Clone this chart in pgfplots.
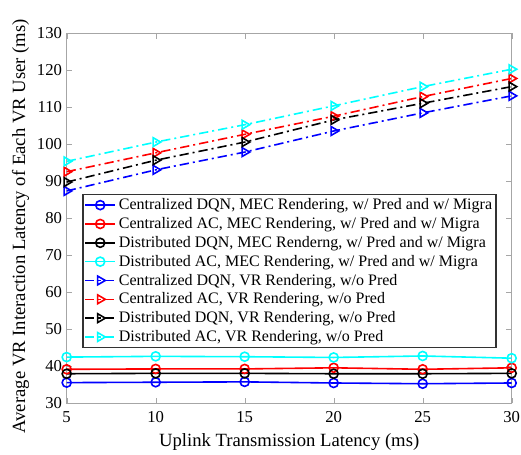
\documentclass[border=0pt]{standalone}
\usepackage{pgfplots}
\pgfplotsset{compat=1.18}
\usepackage{fontspec}
\setmainfont{Liberation Serif}
\definecolor{mcyan}{rgb}{0,1,1}
\definecolor{mblue}{rgb}{0,0,1}
\definecolor{mred}{rgb}{1,0,0}
\begin{document}
\begin{tikzpicture}
\begin{axis}[
  scale only axis,
  width=333.75pt, height=277.5pt,
  xmin=5, xmax=30, ymin=30, ymax=130,
  xtick={5,10,15,20,25,30},
  ytick={30,40,...,130},
  tick align=inside,
  axis line style={gray!70},
  tick style={gray!70},
  every tick label/.append style={font=\fontsize{12.5}{14}\selectfont},
  xticklabel style={yshift=-2.5pt},
  /pgf/number format/assume math mode=true,
  xlabel={Uplink Transmission Latency (ms)},
  ylabel={Average VR Interaction Latency of Each VR User (ms)},
  xlabel style={font=\fontsize{14}{16}\selectfont, yshift=-1pt},
  ylabel style={font=\fontsize{14}{16}\selectfont, xshift=-6pt, yshift=-1pt},
  legend style={at={(0.035,0.566)}, anchor=north west, draw=black!80, line width=1pt,
    font=\fontsize{12}{13}\selectfont, inner sep=1pt, row sep=0.3pt, cells={anchor=west}},
  legend cell align=left,
  legend image code/.code={\draw[mark repeat=2,mark phase=2] plot coordinates {(0cm,0cm) (0.4cm,0cm) (0.8cm,0cm)};},
  every axis plot/.append style={line width=1.2pt},
  mydash/.style={dash pattern=on 7pt off 3pt on 1.5pt off 3pt},
]
\addplot[mblue, mark=o, mark size=3.4pt] coordinates {(5,35.6) (10,35.7) (15,35.8) (20,35.5) (25,35.3) (30,35.5)};
\addlegendentry{Centralized DQN, MEC Rendering, w/ Pred and w/ Migra}
\addplot[mred, mark=o, mark size=3.4pt] coordinates {(5,39.2) (10,39.3) (15,39.3) (20,39.6) (25,39.2) (30,39.6)};
\addlegendentry{Centralized AC, MEC Rendering, w/ Pred and w/ Migra}
\addplot[black, mark=o, mark size=3.4pt] coordinates {(5,38.0) (10,38.1) (15,38.1) (20,38.0) (25,38.0) (30,38.1)};
\addlegendentry{Distributed DQN, MEC Renderng, w/ Pred and w/ Migra}
\addplot[mcyan, mark=o, mark size=3.4pt] coordinates {(5,42.5) (10,42.7) (15,42.6) (20,42.4) (25,42.8) (30,42.2)};
\addlegendentry{Distributed AC, MEC Rendering, w/ Pred and w/ Migra}
\addplot[mblue, mydash, mark=triangle, mark size=3.8pt, mark options={solid, rotate=-90}] coordinates {(5,87.4) (10,93.1) (15,97.9) (20,103.6) (25,108.5) (30,113.1)};
\addlegendentry{Centralized DQN, VR Rendering, w/o Pred}
\addplot[mred, mydash, mark=triangle, mark size=3.8pt, mark options={solid, rotate=-90}] coordinates {(5,92.6) (10,97.7) (15,102.7) (20,107.6) (25,112.9) (30,117.8)};
\addlegendentry{Centralized AC, VR Rendering, w/o Pred}
\addplot[black, mydash, mark=triangle, mark size=3.8pt, mark options={solid, rotate=-90}] coordinates {(5,89.8) (10,95.7) (15,100.6) (20,106.6) (25,111.1) (30,115.6)};
\addlegendentry{Distributed DQN, VR Rendering, w/o Pred}
\addplot[mcyan, mydash, mark=triangle, mark size=3.8pt, mark options={solid, rotate=-90}] coordinates {(5,95.4) (10,100.6) (15,105.3) (20,110.4) (25,115.6) (30,120.3)};
\addlegendentry{Distributed AC, VR Rendering, w/o Pred}
\end{axis}
\pgfresetboundingbox
\path[use as bounding box] ([xshift=-50pt, yshift=-38pt]current axis.south west) rectangle ++(390.75pt,340.5pt);
\end{tikzpicture}
\end{document}
